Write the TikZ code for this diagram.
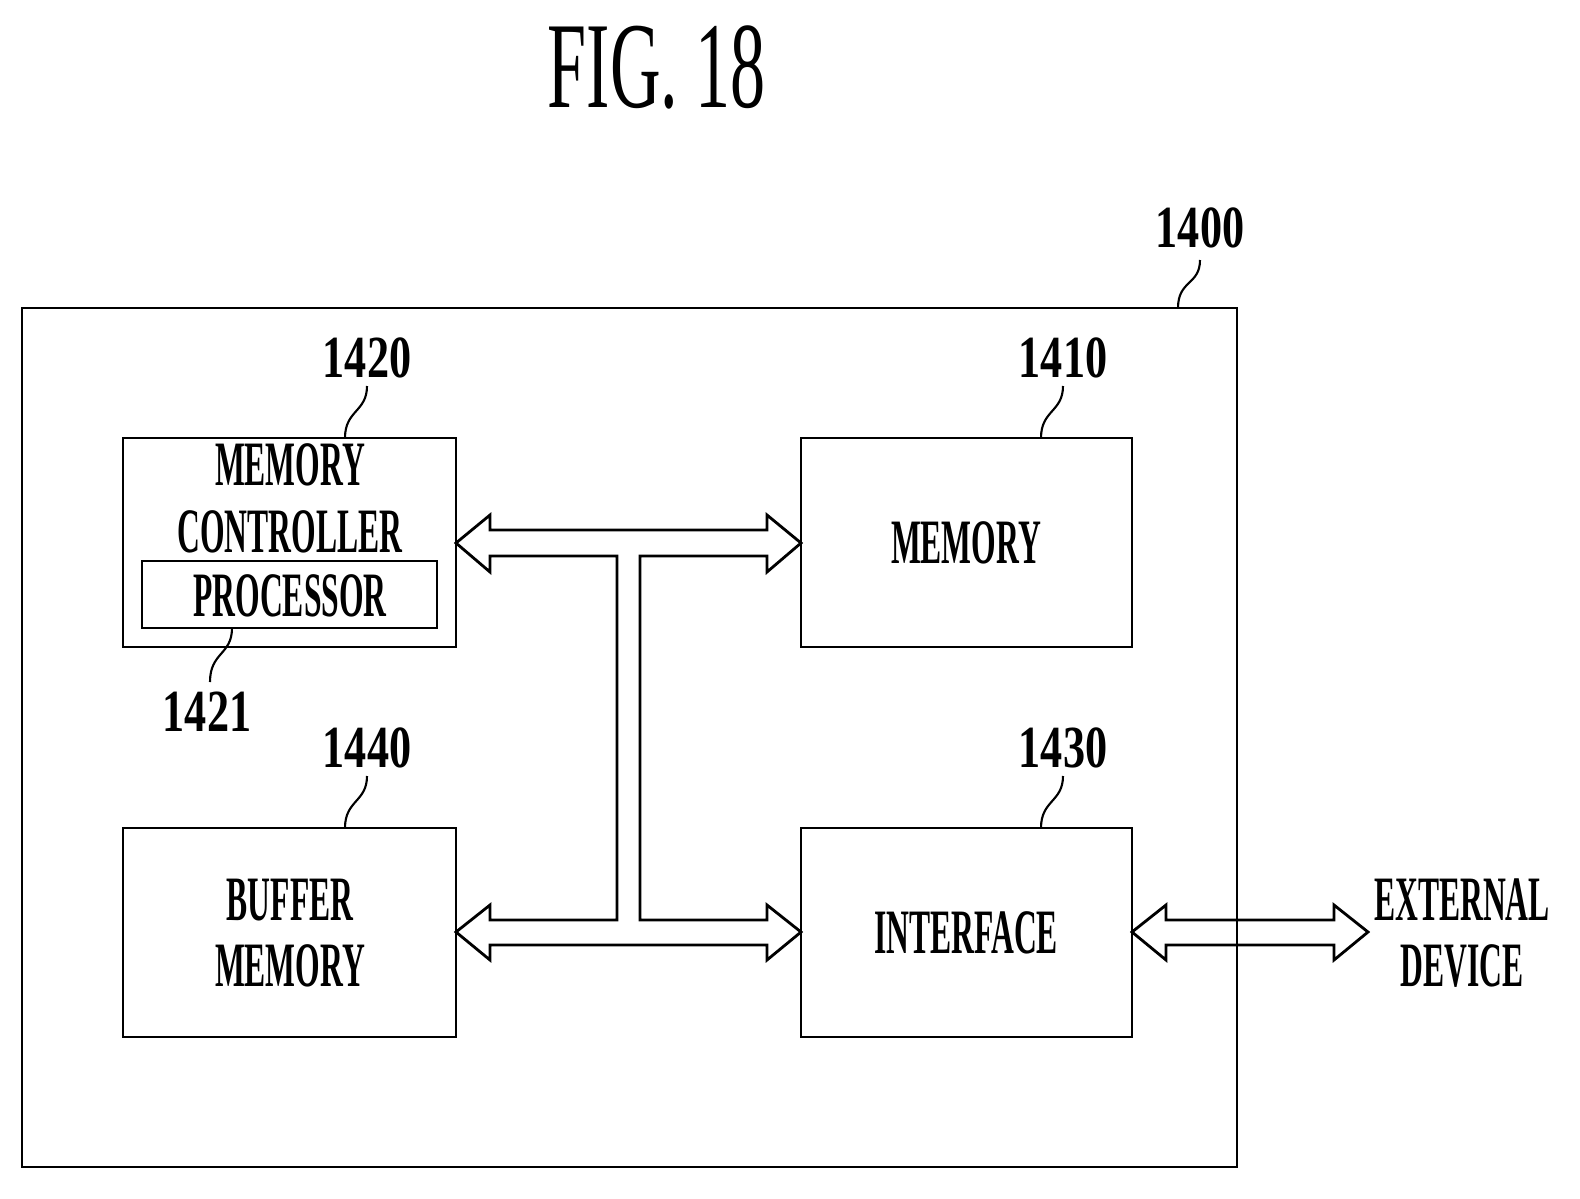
\documentclass[tikz,border=0pt]{standalone}
\usepackage{fontspec}
\setmainfont{Liberation Serif}
\begin{document}
\begin{tikzpicture}[x=0.02cm,y=-0.02cm,line width=1.6pt,
  txt/.style={font=\fontsize{36}{40}\selectfont\bfseries,align=center,inner sep=0pt},
  lbl/.style={font=\fontsize{34}{36}\selectfont\bfseries,inner sep=0pt},
  lead/.style={line width=1.2pt}]
\useasboundingbox (0,0) rectangle (1580,1198);
\newcommand{\cond}[1]{\scalebox{0.5}[1]{#1}}
\newcommand{\condl}[1]{\scalebox{0.74}[1]{#1}}
\node[font=\fontsize{70}{72}\selectfont,inner sep=0pt] (title) at (657,67) {\scalebox{0.57}[1]{FIG. 18}};
% boxes
\draw (22,308) rectangle (1237,1167);
\draw (123,438) rectangle (456,647);
\draw (142,561) rectangle (437,628);
\draw (801,438) rectangle (1132,647);
\draw (123,828) rectangle (456,1037);
\draw (801,828) rectangle (1132,1037);
\node[txt] (mc) at (290,498) {\cond{MEMORY}\\[-2pt]\cond{CONTROLLER}};
\node[txt] (proc) at (290,596) {\cond{PROCESSOR}};
\node[txt] (mem) at (966,543) {\cond{MEMORY}};
\node[txt] (buf) at (290,933) {\cond{BUFFER}\\[-2pt]\cond{MEMORY}};
\node[txt] (intf) at (966,933) {\cond{INTERFACE}};
\node[txt] (ext) at (1462,933) {\cond{EXTERNAL}\\[-2pt]\cond{DEVICE}};
% labels
\node[lbl] (l1400) at (1200,228) {\condl{1400}};
\node[lbl] (l1420) at (367,358) {\condl{1420}};
\node[lbl] (l1410) at (1063,358) {\condl{1410}};
\node[lbl] (l1421) at (207,712) {\condl{1421}};
\node[lbl] (l1440) at (367,748) {\condl{1440}};
\node[lbl] (l1430) at (1063,748) {\condl{1430}};
\draw[lead] (1200,260) .. controls (1200,285) and (1178,280) .. (1178,308);
\draw[lead] (367,386) .. controls (367,412) and (345,410) .. (345,438);
\draw[lead] (1063,386) .. controls (1063,412) and (1041,410) .. (1041,438);
\draw[lead] (232,628) .. controls (232,655) and (210,652) .. (210,682);
\draw[lead] (367,776) .. controls (367,802) and (345,800) .. (345,828);
\draw[lead] (1063,776) .. controls (1063,802) and (1041,800) .. (1041,828);
% bus
\draw[line join=miter] (490,530) -- (767,530) -- (767,515) -- (801,543) -- (767,572) -- (767,556) -- (640,556) -- (640,920) -- (767,920) -- (767,905) -- (801,932) -- (767,960) -- (767,945) -- (490,945) -- (490,960) -- (456,932) -- (490,905) -- (490,920) -- (617,920) -- (617,556) -- (490,556) -- (490,572) -- (456,543) -- (490,515) -- cycle;
% external
\draw[line join=miter] (1166,920) -- (1334,920) -- (1334,905) -- (1368,932) -- (1334,960) -- (1334,945) -- (1166,945) -- (1166,960) -- (1132,932) -- (1166,905) -- cycle;
\end{tikzpicture}
\end{document}
